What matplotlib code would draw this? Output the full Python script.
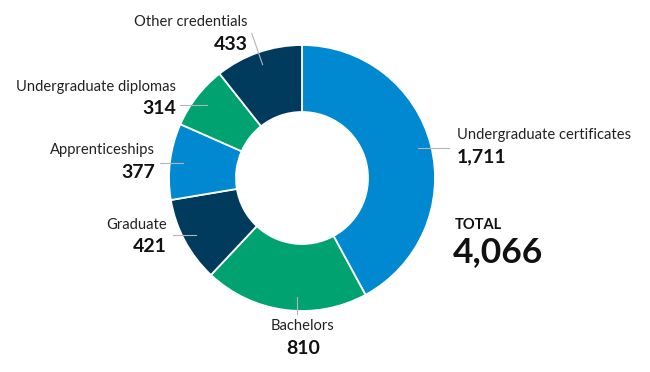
import numpy as np
import matplotlib
matplotlib.use("Agg")
import matplotlib.pyplot as plt

plt.rcParams["font.family"] = ["Lato", "DejaVu Sans"]

# data
labels = ["Undergraduate certificates", "Bachelors", "Graduate",
          "Apprenticeships", "Undergraduate diplomas", "Other credentials"]
values = [1711, 810, 421, 377, 314, 433]
colors = ["#0089d0", "#00a370", "#003a5c", "#0089d0", "#00a370", "#003a5c"]

# layout (pixel coords, y down)
cx, cy, R, ring = 302, 178, 133, 67
# label anchor: x, y of name, alignment, leader end point
lab_pos = {
    "Undergraduate certificates": (457, 135, "left", (449, None)),
    "Bachelors": (303, 326, "center", (None, 314)),
    "Graduate": (167, 225, "right", (173, None)),
    "Apprenticeships": (155, 150, "right", (160, None)),
    "Undergraduate diplomas": (176, 87, "right", (180, None)),
    "Other credentials": (248, 22, "right", "radial"),
}

fig = plt.figure(figsize=(6.5, 3.72), dpi=100)
ax = fig.add_axes([0, 0, 1, 1])

wedges, _ = ax.pie(values, colors=colors, startangle=-90, counterclock=True,
                   center=(cx, cy), radius=R, frame=True,
                   wedgeprops=dict(width=ring, edgecolor="white", linewidth=1.3))
ax.set_xlim(0, 650)
ax.set_ylim(372, 0)
ax.set_aspect("equal")
ax.axis("off")

for w, lab, val in zip(wedges, labels, values):
    mid = np.deg2rad((w.theta1 + w.theta2) / 2)
    sx, sy = cx + 120 * np.cos(mid), cy + 120 * np.sin(mid)
    tx, ty, ha, end = lab_pos[lab]
    if end == "radial":
        ex, ey = cx + 153 * np.cos(mid), cy + 153 * np.sin(mid)
    elif end[0] is not None:
        ex, ey = end[0], sy
    else:
        sx = sx + 10  # bachelors leader sits a little right of mid
        ex, ey = sx, end[1]
    ax.plot([sx, ex], [sy, ey], color="#b5b5b5", lw=0.8, zorder=3)
    ax.text(tx, ty, lab, ha=ha, va="center", fontsize=10.6, color="#222222")
    ax.text(tx, ty + 22, f"{val:,}", ha=ha, va="center", fontsize=14,
            fontweight="bold", color="#111111")

ax.text(455, 225, "TOTAL", ha="left", va="center", fontsize=10.5,
        fontweight="bold", color="#111111")
ax.text(453, 252, f"{sum(values):,}", ha="left", va="center", fontsize=25.5,
        fontweight="bold", color="#111111")

fig.savefig("out.png", dpi=100)
